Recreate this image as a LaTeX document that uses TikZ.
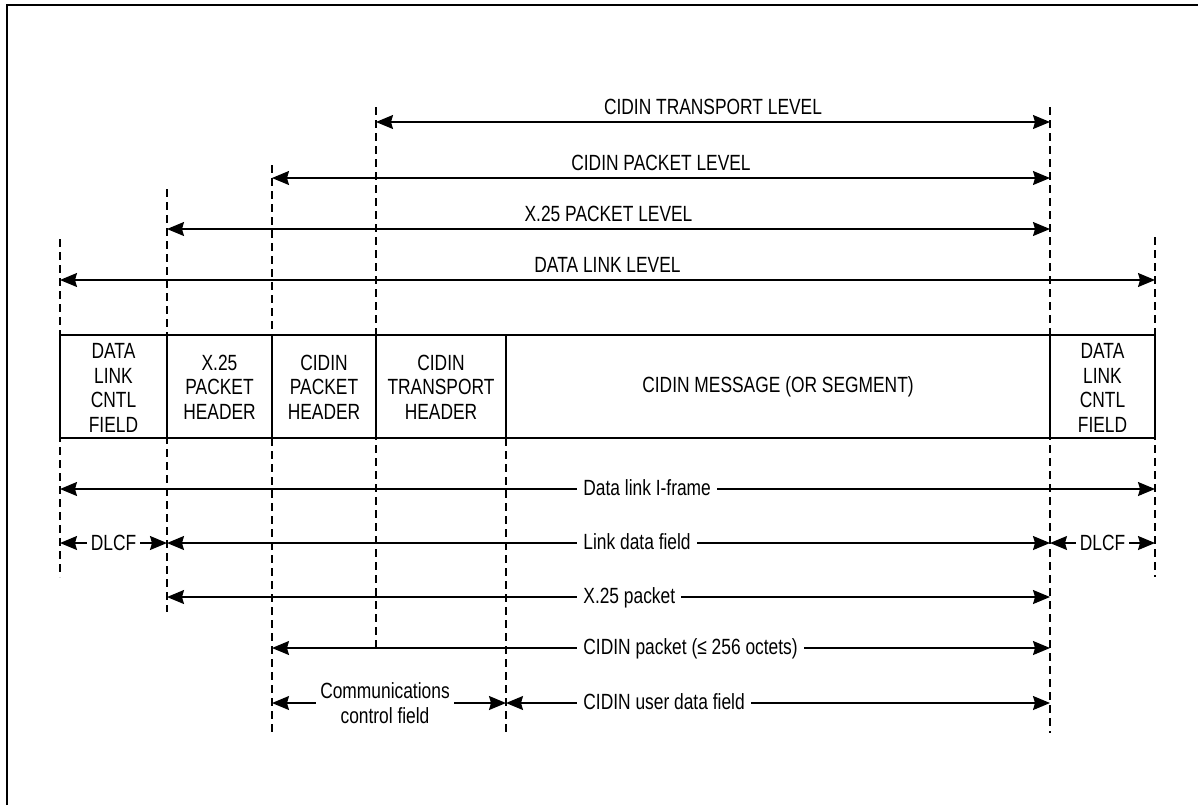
\documentclass[tikz,border=0pt]{standalone}
\usepackage{fontspec}
\setmainfont{Liberation Sans}[FakeStretch=0.79]
\usepackage{tikz}
\usetikzlibrary{arrows.meta}

\tikzset{
  dim/.style={{Stealth[length=8.5pt,width=7pt,inset=1pt]}-{Stealth[length=8.5pt,width=7pt,inset=1pt]}, line width=0.7pt},
  guide/.style={dash pattern=on 4pt off 2.5pt, line width=0.65pt},
  lbl/.style={fill=white, inner xsep=3pt, inner ysep=1pt, anchor=base west},
  cell/.style={align=center}
}

\begin{document}
\begin{tikzpicture}[x=0.5pt,y=-0.5pt,font=\fontsize{11}{12.2}\selectfont]
  \useasboundingbox (0,0) rectangle (1198,805);
  \draw[line width=0.9pt] (7,805) -- (7,5) -- (1198,5);
  % dashed guides
  \foreach \n/\x/\t/\b in {a/60/239/577, b/167/189/612, c/272/165/733, d/376/107/649,
                           e/506/438/733, f/1050/107/733, g/1155/237/577} {
    \coordinate (\n-top) at (\x,\t);
    \coordinate (\n-bot) at (\x,\b);
    \draw[guide] (\n-top) -- (\n-bot);
  }
  % levels
  \foreach \n/\y/\l/\r/\t in {trn/122/376/1050/CIDIN TRANSPORT LEVEL,
                              pkt/178/272/1050/CIDIN PACKET LEVEL,
                              xpk/229/167/1050/X.25 PACKET LEVEL,
                              dll/280/60/1155/DATA LINK LEVEL} {
    \coordinate (\n-l) at (\l,\y);
    \coordinate (\n-r) at (\r,\y);
    \draw[dim] (\n-l) -- (\n-r) node[midway, anchor=base, yshift=4pt] (\n-t) {\t};
  }
  % frame
  \draw[line width=0.75pt] (60,335) rectangle (1155,438);
  \foreach \x in {167,272,376,506,1050}
    \draw[line width=0.75pt] (\x,335) -- (\x,438);
  \node[cell] (dlcl) at (113.5,388) {DATA\\LINK\\CNTL\\FIELD};
  \node[cell] (x25h) at (219.5,387) {X.25\\PACKET\\HEADER};
  \node[cell] (cph) at (324,387) {CIDIN\\PACKET\\HEADER};
  \node[cell] (cth) at (441,387) {CIDIN\\TRANSPORT\\HEADER};
  \node[cell] (msg) at (778,387) {CIDIN MESSAGE (OR SEGMENT)};
  \node[cell] (dlcr) at (1102.5,388) {DATA\\LINK\\CNTL\\FIELD};
  % fields
  \foreach \n/\y/\l/\r/\t in {ifr/489/60/1155/Data link I-frame,
                              ldf/543/167/1050/Link data field,
                              x25/597/167/1050/X.25 packet,
                              cpk/648/272/1050/CIDIN packet (≤ 256 octets),
                              udf/703/506/1050/CIDIN user data field} {
    \coordinate (\n-l) at (\l,\y);
    \coordinate (\n-r) at (\r,\y);
    \draw[dim] (\n-l) -- (\n-r);
    \node[lbl] (\n-t) at (577,\y+6) {\t};
  }
  \coordinate (dlcf-l) at (60,543);
  \coordinate (dlcf-r) at (167,543);
  \draw[dim] (dlcf-l) -- (dlcf-r) node[midway, fill=white, inner xsep=2pt] (dlcf-t) {DLCF};
  \coordinate (dlcf2-l) at (1050,543);
  \coordinate (dlcf2-r) at (1155,543);
  \draw[dim] (dlcf2-l) -- (dlcf2-r) node[midway, fill=white, inner xsep=2pt] (dlcf2-t) {DLCF};
  \coordinate (ccf-l) at (272,703);
  \coordinate (ccf-r) at (506,703);
  \draw[dim] (ccf-l) -- (ccf-r);
  \node[fill=white, align=center, inner sep=2pt] (ccf-t) at (385,703) {Communications\\control field};
\end{tikzpicture}
\end{document}
